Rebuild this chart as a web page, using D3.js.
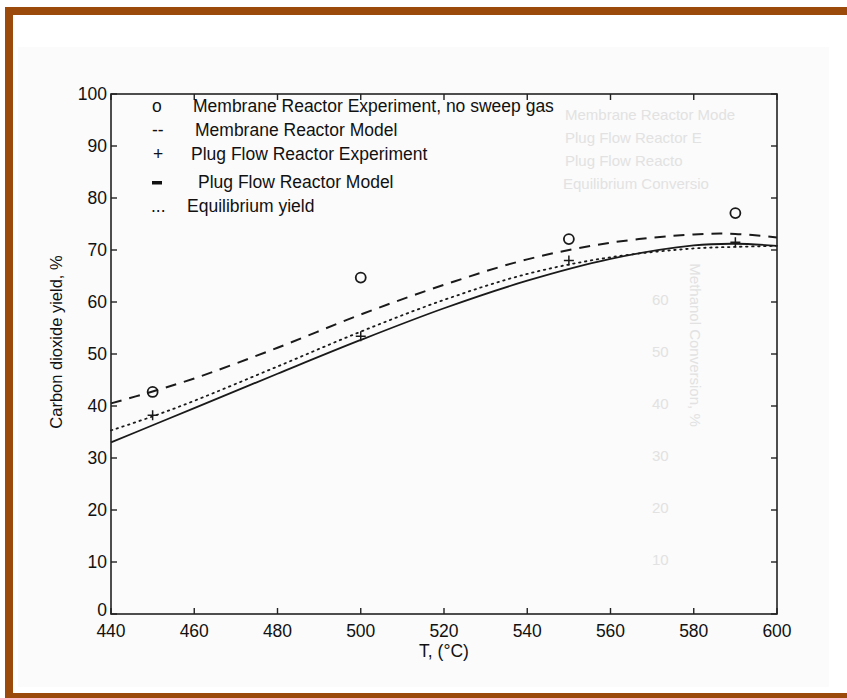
<!DOCTYPE html>
<html lang="en">
<head>
  <meta charset="UTF-8">
  <title>Carbon dioxide yield vs temperature</title>
  <script src="https://d3js.org/d3.v7.min.js"></script>
  <style>
    body { margin: 0; background: #fff; }
    svg { display: block; font-family: "Liberation Sans", Arial, sans-serif; }
    .frame { fill: none; stroke: #222; stroke-width: 1.6px; }
    .tick-mark { stroke: #222; stroke-width: 1.4px; }
    .tick-label { font-size: 17.5px; fill: #111; }
    .legend text { font-size: 17.5px; fill: #111; }
    .ghost { fill: #e2e2e2; font-size: 15px; }
  </style>
</head>
<body>
  <script>
    const width = 847;
    const height = 698;

    // Plot box in page pixels
    const margin = { left: 111, right: 70, top: 94, bottom: 84 };

    // Experiment points
    const membraneExpT = [450, 500, 550, 590];
    const membraneExpY = [42.7, 64.7, 72.1, 77.1];
    const plugExpT = [450, 500, 550, 590];
    const plugExpY = [38.2, 53.4, 68.0, 71.5];

    // Model curves
    const modelT = [440, 450, 460, 480, 500, 520, 540, 560, 580, 590, 600];
    const membraneModelY = [40.5, 42.8, 45.3, 51.2, 57.6, 63.3, 68.2, 71.4, 73.0, 73.1, 72.4];
    const plugModelY = [33.0, 36.3, 39.6, 46.2, 52.7, 58.8, 64.1, 68.3, 70.9, 71.2, 70.8];
    const equilibriumY = [35.3, 38.0, 41.0, 47.6, 54.3, 60.4, 65.4, 68.6, 70.3, 70.6, 70.8];

    const xTicks = [440, 460, 480, 500, 520, 540, 560, 580, 600];
    const yTicks = [0, 10, 20, 30, 40, 50, 60, 70, 80, 90, 100];

    const legendLabels = [
      "Membrane Reactor Experiment, no sweep gas",
      "Membrane Reactor Model",
      "Plug Flow Reactor Experiment",
      "Plug Flow Reactor Model",
      "Equilibrium yield"
    ];

    const svg = d3.select("body").append("svg")
      .attr("width", width)
      .attr("height", height);

    // faint scanned page
    svg.append("rect")
      .attr("x", 18).attr("y", 47)
      .attr("width", 811).attr("height", 640)
      .attr("fill", "#fbfbfb");

    const x = d3.scaleLinear().domain([440, 600]).range([margin.left, width - margin.right]);
    const y = d3.scaleLinear().domain([0, 100]).range([height - margin.bottom, margin.top]);

    // show-through from the reverse page (very faint)
    const ghost = svg.append("g").attr("class", "ghost");
    [["Membrane Reactor Mode", 565, 120], ["Plug Flow Reactor E", 565, 143],
     ["Plug Flow Reacto", 565, 166], ["Equilibrium Conversio", 563, 189]].forEach(d => {
      ghost.append("text").attr("x", d[1]).attr("y", d[2]).text(d[0]);
    });
    [60, 50, 40, 30, 20, 10].forEach(v => {
      ghost.append("text").attr("x", 652).attr("y", y(v) + 3).text(v);
    });
    ghost.append("text")
      .attr("transform", "translate(690,345) rotate(90)")
      .attr("text-anchor", "middle")
      .text("Methanol Conversion, %");

    const line = d3.line().curve(d3.curveCatmullRom.alpha(0.5));
    const pts = ys => modelT.map((t, i) => [x(t), y(ys[i])]);

    svg.append("path")
      .attr("d", line(pts(membraneModelY)))
      .attr("fill", "none").attr("stroke", "#1a1a1a")
      .attr("stroke-width", 2).attr("stroke-dasharray", "11,8");

    svg.append("path")
      .attr("d", line(pts(plugModelY)))
      .attr("fill", "none").attr("stroke", "#1a1a1a")
      .attr("stroke-width", 1.8);

    svg.append("path")
      .attr("d", line(pts(equilibriumY)))
      .attr("fill", "none").attr("stroke", "#1a1a1a")
      .attr("stroke-width", 1.8).attr("stroke-dasharray", "1.5,4.5")
      .attr("stroke-linecap", "round");

    // circles
    svg.selectAll(".mexp")
      .data(membraneExpT)
      .enter().append("circle")
      .attr("cx", d => x(d))
      .attr("cy", (d, i) => y(membraneExpY[i]))
      .attr("r", 5)
      .attr("fill", "none").attr("stroke", "#1a1a1a").attr("stroke-width", 1.8);

    // plus marks
    svg.selectAll(".pexp")
      .data(plugExpT)
      .enter().append("path")
      .attr("d", (d, i) => {
        const cx = x(d), cy = y(plugExpY[i]);
        return `M${cx - 5},${cy}H${cx + 5}M${cx},${cy - 5}V${cy + 5}`;
      })
      .attr("stroke", "#1a1a1a").attr("stroke-width", 1.5);

    // frame
    const x0 = x.range()[0], x1 = x.range()[1];
    const yb = y.range()[0], yt = y.range()[1];
    svg.append("rect").attr("class", "frame")
      .attr("x", x0).attr("y", yt)
      .attr("width", x1 - x0).attr("height", yb - yt);

    const tickLen = 6;
    xTicks.forEach(t => {
      svg.append("line").attr("class", "tick-mark")
        .attr("x1", x(t)).attr("x2", x(t)).attr("y1", yb).attr("y2", yb - tickLen);
      svg.append("line").attr("class", "tick-mark")
        .attr("x1", x(t)).attr("x2", x(t)).attr("y1", yt).attr("y2", yt + tickLen);
      svg.append("text").attr("class", "tick-label")
        .attr("x", x(t)).attr("y", yb + 23)
        .attr("text-anchor", "middle").text(t);
    });
    yTicks.forEach(v => {
      svg.append("line").attr("class", "tick-mark")
        .attr("x1", x0).attr("x2", x0 + tickLen).attr("y1", y(v)).attr("y2", y(v));
      svg.append("line").attr("class", "tick-mark")
        .attr("x1", x1).attr("x2", x1 - tickLen).attr("y1", y(v)).attr("y2", y(v));
      svg.append("text").attr("class", "tick-label")
        .attr("x", x0 - 4).attr("y", y(v) + (v === 0 ? 2 : 6))
        .attr("text-anchor", "end").text(v);
    });

    // axis titles
    svg.append("text").attr("class", "tick-label")
      .attr("x", (x0 + x1) / 2).attr("y", yb + 43)
      .attr("text-anchor", "middle").text("T, (°C)");
    svg.append("text").attr("class", "tick-label")
      .style("font-size", "16.5px")
      .attr("transform", `translate(62,${(yt + yb) / 2 - 12}) rotate(-90)`)
      .attr("text-anchor", "middle").text("Carbon dioxide yield, %");

    // legend, written as plain text inside the box like the original
    const legend = svg.append("g").attr("class", "legend");
    const rowY = [112, 136, 160, 188, 212];
    const textX = [193, 195, 191, 198, 187];
    legendLabels.forEach((s, i) => {
      legend.append("text").attr("x", textX[i]).attr("y", rowY[i]).text(s);
    });
    legend.append("text").attr("x", 152).attr("y", rowY[0]).text("o");
    legend.append("text").attr("x", 152).attr("y", rowY[1]).text("--");
    legend.append("text").attr("x", 153).attr("y", rowY[2]).text("+");
    legend.append("rect").attr("x", 152).attr("y", rowY[3] - 7).attr("width", 10).attr("height", 3.5).attr("fill", "#111");
    legend.append("text").attr("x", 151).attr("y", rowY[4]).text("...");

    // brown page border
    const brown = "#9c4a0c";
    svg.append("rect").attr("x", 5).attr("y", 7).attr("width", width - 5).attr("height", 8).attr("fill", brown);
    svg.append("rect").attr("x", 5).attr("y", 7).attr("width", 8).attr("height", height - 7).attr("fill", brown);
    svg.append("rect").attr("x", 5).attr("y", 693).attr("width", width - 5).attr("height", 5).attr("fill", brown);
  </script>
</body>
</html>
